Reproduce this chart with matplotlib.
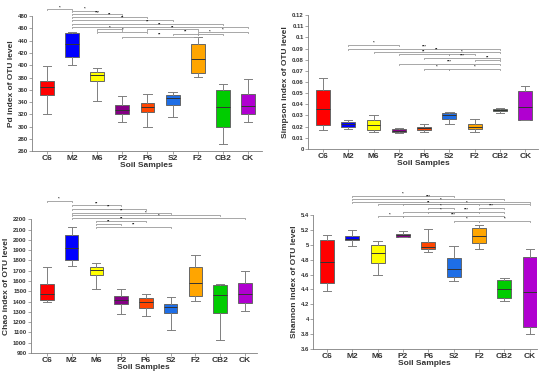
import matplotlib
matplotlib.use("Agg")
import matplotlib.pyplot as plt

plt.rcParams['font.family'] = ['Liberation Sans', 'DejaVu Sans']

categories = ["C6", "M2", "M6", "P2", "P6", "S2", "F2", "CB2", "CK"]
colors = ["#ff0000", "#0000ff", "#ffff00", "#850085", "#ff4500",
          "#1e6ee6", "#ffa500", "#00cc00", "#b000d0"]

# Pd index
pd_lo  = [320, 400, 341, 308, 300, 316, 381, 272, 308]
pd_q1  = [352, 414, 375, 320, 323, 336, 388, 299, 320]
pd_med = [364, 435, 384, 327, 332, 347, 410, 332, 334]
pd_q3  = [374, 453, 389, 336, 339, 352, 434, 360, 353]
pd_hi  = [398, 455, 396, 350, 353, 357, 446, 369, 377]
pd_sig = [(0, 1, 491, "*"), (1, 2, 488, "*"), (1, 3, 483, "***"), (1, 4, 479, "**"),
          (1, 5, 473.5, "**"), (1, 7, 467.5, "**"), (1, 8, 462.5, "**"),
          (2, 3, 458.3, "*"), (4, 6, 458.3, "**"), (2, 4, 454.4, "*"),
          (6, 8, 454.4, "*"), (5, 6, 450.7, "**"), (6, 7, 450.7, "*"),
          (3, 6, 446.3, "**")]

# Simpson index
si_lo  = [0.017, 0.018, 0.015, 0.014, 0.015, 0.022, 0.015, 0.032, 0.026]
si_q1  = [0.021, 0.020, 0.017, 0.015, 0.017, 0.027, 0.018, 0.034, 0.026]
si_med = [0.036, 0.022, 0.021, 0.016, 0.019, 0.030, 0.020, 0.035, 0.038]
si_q3  = [0.053, 0.024, 0.026, 0.018, 0.020, 0.032, 0.022, 0.036, 0.052]
si_hi  = [0.064, 0.026, 0.030, 0.019, 0.022, 0.033, 0.027, 0.037, 0.056]
si_sig = [(1, 3, 0.0932, "*"), (1, 7, 0.0899, "***"), (2, 7, 0.0870, "**"),
          (3, 5, 0.0852, "**"), (5, 6, 0.0852, "*"), (4, 7, 0.0819, "***"),
          (6, 7, 0.0795, "**"), (3, 7, 0.0762, "***"), (4, 5, 0.0715, "*"),
          (5, 7, 0.0715, "*")]

# Chao index
ch_lo  = [1395, 1750, 1525, 1275, 1260, 1125, 1410, 1025, 1305]
ch_q1  = [1420, 1800, 1655, 1375, 1340, 1290, 1450, 1285, 1390]
ch_med = [1470, 1925, 1710, 1415, 1395, 1350, 1580, 1460, 1475]
ch_q3  = [1570, 2050, 1740, 1450, 1430, 1380, 1735, 1560, 1580]
ch_hi  = [1740, 2125, 1770, 1520, 1470, 1445, 1855, 1575, 1700]
ch_sig = [(0, 1, 2377, "*"), (1, 3, 2335, "**"), (1, 4, 2297, "**"),
          (1, 5, 2261, "**"), (1, 7, 2239, "*"), (1, 8, 2213, "*"),
          (2, 4, 2184, "**"), (2, 3, 2152, "**"), (2, 5, 2123, "**")]

# Shannon index
sh_lo  = [4.38, 4.99, 4.60, 5.10, 4.91, 4.52, 4.94, 4.25, 3.80]
sh_q1  = [4.48, 5.06, 4.75, 5.11, 4.95, 4.57, 5.02, 4.28, 3.89]
sh_med = [4.77, 5.08, 4.89, 5.13, 4.97, 4.68, 5.12, 4.41, 4.36]
sh_q3  = [5.06, 5.12, 5.00, 5.15, 5.04, 4.82, 5.22, 4.53, 4.83]
sh_hi  = [5.13, 5.20, 5.05, 5.19, 5.21, 4.98, 5.27, 4.56, 4.94]
sh_sig = [(1, 5, 5.658, "*"), (1, 7, 5.614, "***"), (1, 8, 5.578, "*"),
          (2, 6, 5.545, "**"), (3, 8, 5.545, "*"), (4, 5, 5.495, "*"),
          (6, 7, 5.495, "***"), (3, 6, 5.440, "*"), (4, 7, 5.440, "***"),
          (2, 3, 5.382, "*"), (3, 7, 5.382, "***"), (5, 6, 5.324, "*"),
          (6, 8, 5.324, "*")]

TXT = "#333333"
GRAY = "#7f7f7f"

fig = plt.figure(figsize=(5.5, 3.76), dpi=100)


def panel(rect, lo, q1, med, q3, hi, sig, ylim, yticks, ylabels, ylabel, xlim):
    ax = fig.add_axes(rect)
    stats = []
    for k in range(len(categories)):
        stats.append(dict(whislo=lo[k], q1=q1[k], med=med[k], q3=q3[k],
                          whishi=hi[k], label=categories[k]))
    b = ax.bxp(stats, positions=range(len(categories)), widths=0.55,
               showfliers=False, patch_artist=True,
               boxprops=dict(edgecolor="#666666", linewidth=0.7),
               whiskerprops=dict(color=GRAY, linewidth=0.7),
               capprops=dict(color=GRAY, linewidth=0.7),
               medianprops=dict(color="#333333", linewidth=0.7),
               capwidths=0.33)
    for patch, c in zip(b['boxes'], colors):
        patch.set_facecolor(c)
    ax.set_xlim(*xlim)
    ax.set_ylim(*ylim)
    ax.set_yticks(yticks)
    ax.set_yticklabels(ylabels, fontsize=4.3, color=TXT, fontweight="bold")
    ax.set_xticks(range(len(categories)))
    ax.set_xticklabels(categories, fontsize=6, color=TXT, fontweight="bold")
    ax.tick_params(axis="y", length=2, width=0.5, color=GRAY, pad=1)
    ax.tick_params(axis="x", length=2, width=0.5, color=GRAY, pad=1)
    for s in ("top", "right"):
        ax.spines[s].set_visible(False)
    for s in ("left", "bottom"):
        ax.spines[s].set_color(GRAY)
        ax.spines[s].set_linewidth(0.6)
    ax.set_xlabel("Soil Samples", fontsize=6, color=TXT, fontweight="bold", labelpad=0)
    ax.set_ylabel(ylabel, fontsize=6, color=TXT, fontweight="bold", labelpad=2)
    span = ylim[1] - ylim[0]
    tick = span * 0.008
    for i, j, y, lab in sig:
        ax.plot([i, i, j, j], [y - tick, y, y, y - tick], color="#999999",
                lw=0.6, clip_on=False)
        ax.text((i + j) / 2, y + span * 0.001, lab, ha="center", va="bottom",
                fontsize=3.1, color="#222222", fontweight="bold", clip_on=False)
    return ax


panel([0.058, 0.598, 0.418, 0.359], pd_lo, pd_q1, pd_med, pd_q3, pd_hi, pd_sig,
      (260, 480), list(range(260, 481, 20)), [str(v) for v in range(260, 481, 20)],
      "Pd index of OTU level", (-0.6, 8.55))

si_ticks = [k / 100 for k in range(0, 13)]
si_labels = ["0"] + ["%g" % v for v in si_ticks[1:]]
panel([0.56, 0.604, 0.418, 0.356], si_lo, si_q1, si_med, si_q3, si_hi, si_sig,
      (0, 0.12), si_ticks, si_labels, "Simpson index of OTU level", (-0.59, 8.5))

panel([0.056, 0.061, 0.411, 0.356], ch_lo, ch_q1, ch_med, ch_q3, ch_hi, ch_sig,
      (900, 2200), list(range(900, 2201, 100)), [str(v) for v in range(900, 2201, 100)],
      "Chao index of OTU level", (-0.65, 8.48))

sh_ticks = [3.6 + 0.2 * k for k in range(10)]
sh_labels = ["%g" % round(v, 1) for v in sh_ticks]
panel([0.569, 0.072, 0.407, 0.356], sh_lo, sh_q1, sh_med, sh_q3, sh_hi, sh_sig,
      (3.6, 5.4), sh_ticks, sh_labels, "Shannon index of OTU level", (-0.55, 8.28))

fig.savefig("out.png", dpi=100)
